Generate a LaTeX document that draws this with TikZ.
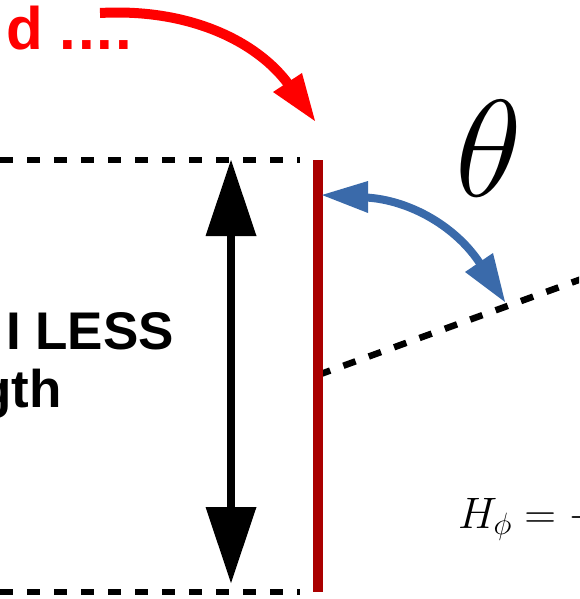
\RequirePackage{fix-cm}
\documentclass[tikz,border=0pt]{standalone}
\usepackage{fontspec}
\newfontfamily\arialb{Liberation Sans}
\usetikzlibrary{arrows.meta}
\definecolor{redline}{RGB}{170,0,0}
\definecolor{bluearr}{RGB}{58,106,170}
\tikzset{
  guide/.style={line width=6.5pt, dash pattern=on 13pt off 14pt, black},
  lbl/.style={inner sep=0pt, outer sep=0pt}
}
\begin{document}
\begin{tikzpicture}[x=1pt,y=-1pt]
\useasboundingbox (0,0) rectangle (579,599);
\clip (0,0) rectangle (579,599);
% coordinates
\coordinate (topL) at (0,160);
\coordinate (topR) at (300,160);
\coordinate (botL) at (0,592);
\coordinate (botR) at (300,592);
\coordinate (wireT) at (318,160);
\coordinate (wireB) at (318,592);
\coordinate (slopeA) at (318,375);
\coordinate (slopeB) at (620,265);
% dashed guides
\draw[guide] (topL) -- (topR);
\draw[guide] (botL) -- (botR);
\draw[guide] (slopeA) -- (slopeB);
% red wire
\draw[redline, line width=10pt] (wireT) -- (wireB);
% black double arrow
\coordinate (bTip1) at (231,160);
\coordinate (bTip2) at (231,583);
\draw[black, line width=8pt] (231,232) -- (231,511);
\fill[black] (bTip1) -- (205.5,236) -- (256.5,236) -- cycle;
\fill[black] (bTip2) -- (205.5,507) -- (256.5,507) -- cycle;
% red curved arrow
\coordinate (rS) at (100,13);
\coordinate (rE) at (289,85);
\draw[red, line width=10pt] (rS) .. controls (190,8) and (258,42) .. (rE);
\fill[red] (315,121) -- (273,92) -- (302,73) -- cycle;
% blue double arrow
\coordinate (uS) at (366,197.5);
\coordinate (uE) at (481,265);
\draw[bluearr, line width=8pt] (uS) .. controls (410,200) and (457,227) .. (uE);
\fill[bluearr] (322,195) -- (368,181) -- (368,213) -- cycle;
\fill[bluearr] (505,302) -- (465,272) -- (493,253) -- cycle;
% texts
\node[lbl, anchor=base west, text=red] (t1) at (6,50) {\fontsize{60}{62}\selectfont\arialb\bfseries d .\kern2pt.\kern2pt.\kern2pt.};
\node[lbl, anchor=base east] (t2) at (174,349) {\fontsize{53}{58}\selectfont\arialb\bfseries I LESS};
\node[lbl, anchor=base east] (t3) at (62,407) {\fontsize{53}{58}\selectfont\arialb\bfseries gth};
\node[lbl, anchor=base west] (th) at (455,196) {\fontsize{138}{138}\selectfont$\theta$};
\node[lbl, anchor=base west] (hf) at (458,528) {\fontsize{44}{44}\selectfont$H_\phi = -$};
\end{tikzpicture}
\end{document}
